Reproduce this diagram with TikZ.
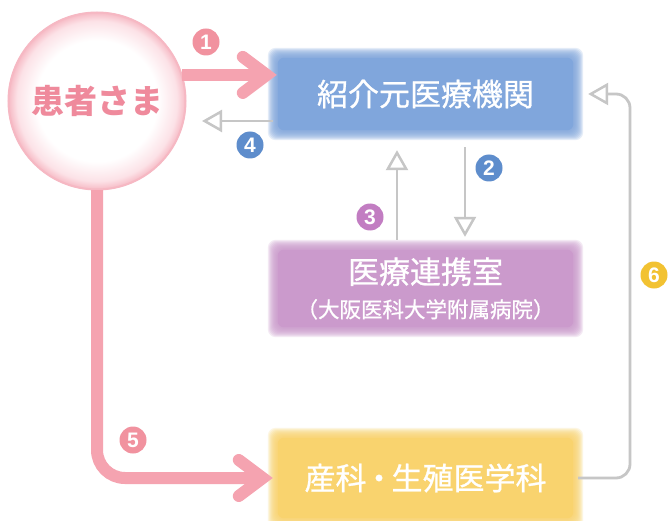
\documentclass[tikz,border=0pt]{standalone}
\usepackage{fontspec}
\newfontfamily\jp[FakeBold=0.8]{Noto Sans CJK JP}
\newfontfamily\jpb{Noto Sans CJK JP}
\newfontfamily\numf{Liberation Sans}
\usetikzlibrary{arrows.meta,backgrounds,calc}
\definecolor{pinkA}{HTML}{F5A3B0}
\definecolor{pinkT}{HTML}{EF8A9C}
\definecolor{pinkN}{HTML}{F1929F}
\definecolor{blueB}{HTML}{80A6DC}
\definecolor{blueN}{HTML}{5E8DCC}
\definecolor{purpB}{HTML}{CB9ACC}
\definecolor{purpN}{HTML}{C27DC2}
\definecolor{yelB}{HTML}{F9D36E}
\definecolor{yelN}{HTML}{F2C232}
\definecolor{grayA}{HTML}{C6C6C6}
\definecolor{pkL}{HTML}{FCE2E7}
\definecolor{pkM}{HTML}{F6B8C3}
\pgfdeclareradialshading{ringshade}{\pgfpoint{0bp}{0bp}}{color(0bp)=(white); color(17bp)=(white); color(22.5bp)=(pkL); color(25bp)=(pkM); color(50bp)=(pkM)}
\newcommand\softfill[2]{%
  \foreach \d in {5,4,...,-4} {\fill[#2, opacity=0.2, rounded corners=8pt] ([shift={(-\d,-\d)}]#1.north west) rectangle ([shift={(\d,\d)}]#1.south east);}
  \fill[#2, rounded corners=6pt] ([shift={(5,5)}]#1.north west) rectangle ([shift={(-5,-5)}]#1.south east);
}
\begin{document}
\begin{tikzpicture}[x=1pt,y=-1pt,
  boxnode/.style={minimum width=305pt, inner sep=0pt, text=white, font=\jp\fontsize{31}{36}\selectfont, align=center},
  badge/.style={circle, fill=#1, text=white, inner sep=0pt, minimum size=27pt, font=\numf\bfseries\fontsize{21}{21}\selectfont},
  grayarrow/.style={draw=grayA, line width=2.8pt, -{Triangle[open, length=20pt, width=22pt, line width=2.5pt]}},
  pinkarrow/.style={draw=pinkA, line width=12pt, -{Straight Barb[length=24pt, width=36pt, line cap=round]}}
]
\useasboundingbox (0,0) rectangle (668,521);

% nodes
\node[boxnode, minimum height=82pt] (blue) at (425.5,94) {紹介元医療機関};
\node[boxnode, minimum height=87pt] (purp) at (425.5,288.5) {\fontsize{31}{34}\selectfont 医療連携室\\[-2pt]\fontsize{21.5}{24}\selectfont （大阪医科大学附属病院）};
\node[boxnode, minimum height=90pt] (yel) at (425.5,478) {産科\kern-3pt・\kern-3pt生殖医学科};
\node[circle, minimum size=178pt, inner sep=0pt, text=pinkT, font=\jpb\bfseries\fontsize{33}{33}\selectfont] (pt) at (97,101) {患者さま};

\begin{scope}[on background layer]
  \fill[white] (0,0) rectangle (668,521);
  \softfill{blue}{blueB}
  \softfill{purp}{purpB}
  \softfill{yel}{yelB}
  \shade[shading=ringshade] (pt.center) circle (89pt);
  \draw[pkM, line width=2pt] (pt.center) circle (88.5pt);
\end{scope}

% connectors
\coordinate (a4) at (202,121);
\coordinate (x2) at (465,0);
\coordinate (x3) at (397,0);
\coordinate (x6) at (630,0);
\draw[grayarrow] (blue.west |- a4) -- (a4);
\draw[grayarrow] ($(blue.south -| x2)+(0,12)$) -- ($(purp.north -| x2)+(0,-8)$);
\draw[grayarrow] ($(purp.north -| x3)+(0,-5)$) -- ($(blue.south -| x3)+(0,15)$);
\draw[grayarrow, rounded corners=14pt] (yel.east) -| (x6 |- blue.east) -- ($(blue.east)+(10,0)$);
\draw[pinkarrow] (pt.17) -- ($(pt.17 -| blue.west)+(4,0)$);
\draw[pinkarrow, rounded corners=28pt] (pt.south) |- (yel.west);

% badges
\node[badge=pinkN] (b1) at (206,42) {1};
\node[badge=blueN] (b2) at (489,168) {2};
\node[badge=purpN] (b3) at (370,217) {3};
\node[badge=blueN] (b4) at (250,145) {4};
\node[badge=pinkN] (b5) at (133,440) {5};
\node[badge=yelN] (b6) at (654,275) {6};
\end{tikzpicture}
\end{document}
